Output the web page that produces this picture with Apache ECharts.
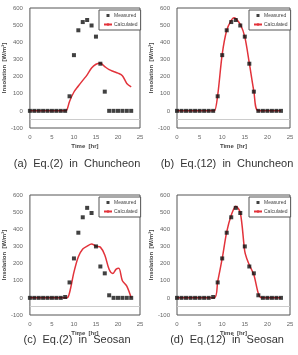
<!DOCTYPE html>
<html>
<head>
<meta charset="utf-8">
<script src="https://cdn.jsdelivr.net/npm/echarts@6/dist/echarts.min.js"></script>
<style>
  html, body { margin: 0; padding: 0; background: #fff; }
  #main { width: 298px; height: 355px; }
</style>
</head>
<body>
<div id="main"></div>
<script>
// hours 0..23
var hours = [0,1,2,3,4,5,6,7,8,9,10,11,12,13,14,15,16,17,18,19,20,21,22,23];

// measured insolation, Chuncheon and Seosan
var measuredChuncheon = [0,0,0,0,0,0,0,0,0,85,325,470,518,530,498,433,275,112,0,0,0,0,0,0];
var measuredSeosan = [0,0,0,0,0,0,0,0,5,90,230,380,470,525,495,300,183,143,15,0,0,0,0,0];

// calculated curves: [hour, value]
var calcHoursA = [0,8,8.4,9,10,11,12,13,14,15,16,17,18,19,20,21,22,23];
var calcA = [0,0,5,55,110,145,178,210,250,272,278,258,240,230,220,205,160,140];

var calcHoursB = [0,8,8.3,9,10,11,12,12.6,13,14,15,16,17,18,23];
var calcB = [0,0,0,90,330,470,528,543,538,505,432,278,115,0,0];

var calcHoursC = [0,8.4,9,10,11,12,13,14,15,16,17,18,18.8,19.6,20.2,21,22,23];
var calcC = [0,0,30,150,240,285,302,314,302,296,250,165,142,168,172,100,68,0];

var calcHoursD = [0,8.2,9,10,11,12,13,14,15,15.5,16,17,18,18.7,23];
var calcD = [0,0,95,230,385,482,535,498,270,225,192,135,25,0,0];

var captions = ['(a)  Eq.(2)  in  Chuncheon', '(b)  Eq.(12)  in  Chuncheon',
                '(c)  Eq.(2)  in  Seosan', '(d)  Eq.(12)  in  Seosan'];

function pairs(xs, ys) {
  return xs.map(function (x, i) { return [x, ys[i]]; });
}

var panels = [
  { left: 27, top: 8, meas: measuredChuncheon, cx: calcHoursA, cy: calcA },
  { left: 177, top: 8, meas: measuredChuncheon, cx: calcHoursB, cy: calcB },
  { left: 27, top: 195, meas: measuredSeosan, cx: calcHoursC, cy: calcC },
  { left: 177, top: 195, meas: measuredSeosan, cx: calcHoursD, cy: calcD }
];

var grids = [], xAxes = [], yAxes = [], series = [], legends = [], titles = [];
var labelStyle = { color: '#666', fontSize: 6, fontFamily: 'Liberation Sans' };

panels.forEach(function (p, i) {
  grids.push({ left: p.left, top: p.top, width: 113, height: 120,
    show: true, borderColor: '#555', borderWidth: 1 });
  xAxes.push({ gridIndex: i, type: 'value', min: 0, max: 25, interval: 5,
    name: 'Time  [hr]', nameLocation: 'middle', nameGap: 15,
    nameTextStyle: { color: '#444', fontSize: 6, fontWeight: 'bold', fontFamily: 'Liberation Sans' },
    axisLine: { show: false }, axisTick: { show: false }, splitLine: { show: false },
    axisLabel: Object.assign({ margin: 6 }, labelStyle) });
  yAxes.push({ gridIndex: i, type: 'value', min: -100, max: 600, interval: 100,
    name: 'Insolation  [W/m²]', nameLocation: 'middle', nameGap: 20,
    nameTextStyle: { color: '#444', fontSize: 6, fontWeight: 'bold', fontFamily: 'Liberation Sans' },
    axisLine: { show: false }, axisTick: { show: false }, splitLine: { show: false },
    axisLabel: Object.assign({ margin: 7 }, labelStyle) });
  series.push({ name: 'Measured', type: 'scatter', xAxisIndex: i, yAxisIndex: i,
    symbol: 'rect', symbolSize: 4, itemStyle: { color: '#111' }, z: 3,
    data: pairs(hours, p.meas),
    markLine: { silent: true, symbol: 'none', label: { show: false },
      lineStyle: { color: '#ccc', width: 1, type: 'solid' }, data: [{ yAxis: -50 }] } });
  series.push({ name: 'Calculated', type: 'line', xAxisIndex: i, yAxisIndex: i,
    symbol: 'none', smooth: 0.3, lineStyle: { color: '#e2333b', width: 1.5 },
    itemStyle: { color: '#e2333b' }, z: 2,
    data: pairs(p.cx, p.cy) });
  legends.push({ left: p.left + 72, top: p.top + 2, orient: 'vertical',
    itemWidth: 8, itemHeight: 3, itemGap: 4, padding: [3, 3, 3, 4],
    borderColor: '#555', borderWidth: 1, backgroundColor: '#fff',
    textStyle: { color: '#444', fontSize: 5, fontFamily: 'Liberation Sans', padding: [0, 0, 0, -3] },
    data: [{ name: 'Measured', icon: 'path://M0,0h1v1h-1z' }, { name: 'Calculated' }] });
  titles.push({ text: captions[i], left: (i % 2 === 0 ? 72 : 222), top: (i < 2 ? 153 : 329),
    textAlign: 'center',
    textStyle: { color: '#333', fontSize: 11, fontWeight: 'normal', fontFamily: 'Liberation Sans' } });
});

var myChart = echarts.init(document.getElementById('main'));
myChart.setOption({
  animation: false,
  backgroundColor: '#fff',
  title: titles,
  legend: legends,
  grid: grids,
  xAxis: xAxes,
  yAxis: yAxes,
  series: series
});
</script>
</body>
</html>
